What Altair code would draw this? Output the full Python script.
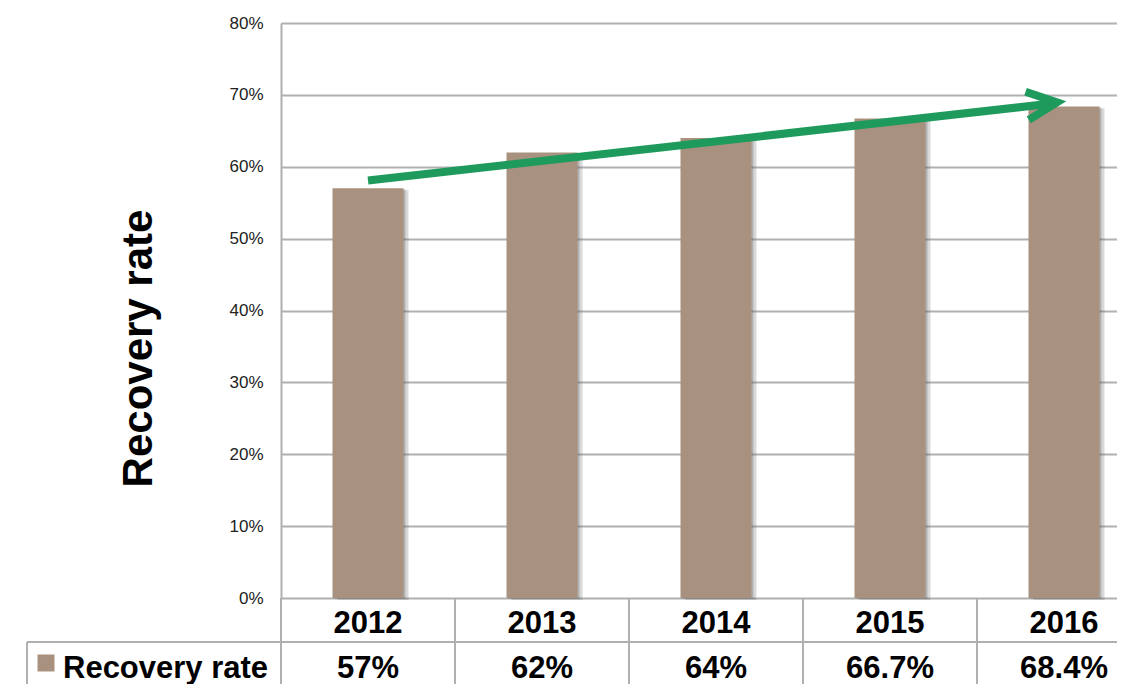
import altair as alt
import pandas as pd

years = ["2012", "2013", "2014", "2015", "2016"]
rates = [0.57, 0.62, 0.64, 0.667, 0.684]
rate_labels = ["57%", "62%", "64%", "66.7%", "68.4%"]
y_ticks = [0, 0.1, 0.2, 0.3, 0.4, 0.5, 0.6, 0.7, 0.8]

arrow_from_year = ["2012"]
arrow_to_year = ["2016"]
arrow_from_val = [0.581]
arrow_to_val = [0.691]

series_name = "Recovery rate"

W = 836
H = 575
GREEN = "#1e9b5c"
BAR = "#a8917f"
LINE = "#b0b0b0"
FONT = "Liberation Sans"

df = pd.DataFrame({"year": years, "rate": rates, "label": rate_labels})
arrow_df = pd.DataFrame({"year": arrow_from_year, "year2": arrow_to_year,
                         "rate": arrow_from_val, "rate2": arrow_to_val})
head_df = pd.DataFrame({"year": arrow_to_year, "rate": arrow_to_val})

xscale = alt.Scale(domain=years, range=[0, 870], paddingInner=0, paddingOuter=0)
X = alt.X("year:N", scale=xscale, axis=None)
yscale = alt.Scale(domain=[0, 0.8])
Y_AXIS = alt.Axis(
    values=y_ticks, format=".0%", grid=True, ticks=False,
    labelPadding=18, labelFontSize=17, labelColor="#222", labelFont=FONT,
    domainColor=LINE, domainWidth=2, gridColor=LINE, gridWidth=2,
    title=series_name, titleFontSize=42, titleFont=FONT, titleFontWeight="bold",
    titleColor="black", titleAngle=270, titleX=-130, titleY=325,
    titleBaseline="alphabetic", titleAlign="center")
Y = alt.Y("rate:Q", scale=yscale, axis=Y_AXIS)

base = alt.Chart(df)

shadow1 = base.mark_bar(size=71, color="#666", opacity=0.25, xOffset=5, yOffset=2).encode(x=X, y=Y)
shadow2 = base.mark_bar(size=71, color="#555", opacity=0.3, xOffset=2, yOffset=1).encode(x=X, y=Y)
bars = base.mark_bar(size=71, color=BAR).encode(x=X, y=Y)

arrow_line = alt.Chart(arrow_df).mark_rule(
    color=GREEN, strokeWidth=8, strokeCap="butt", x2Offset=-10, y2Offset=2).encode(
    x=X, x2="year2:N", y=Y, y2="rate2:Q")
arrow_head = alt.Chart(head_df).mark_point(
    shape="M -1 -0.47 L 0 0 L -1 0.47", size=3600, filled=False, strokeWidth=8,
    color=GREEN, opacity=1, angle=353.4, strokeJoin="miter", strokeCap="butt",
    xOffset=-7, yOffset=1).encode(x=X, y=Y)

year_text = base.mark_text(font=FONT, fontWeight="bold", fontSize=31, baseline="alphabetic",
                           align="center", color="black").encode(
    x=X, y=alt.value(H + 35), text="year:N")
value_text = base.mark_text(font=FONT, fontWeight="bold", fontSize=31, baseline="alphabetic",
                            align="center", color="black").encode(
    x=X, y=alt.value(H + 80), text="label:N")

vlines = base.mark_rule(color=LINE, strokeWidth=2).encode(
    x=alt.X("year:N", scale=xscale, axis=None, bandPosition=0),
    y=alt.value(H), y2=alt.value(H + 100))

hline = alt.Chart(pd.DataFrame({"k": [0]})).mark_rule(color=LINE, strokeWidth=2).encode(
    x=alt.value(-254), x2=alt.value(880), y=alt.value(H + 44))
vleft = alt.Chart(pd.DataFrame({"k": [0]})).mark_rule(color=LINE, strokeWidth=2).encode(
    x=alt.value(-254), y=alt.value(H + 44), y2=alt.value(H + 100))

row_label = alt.Chart(pd.DataFrame({"t": [series_name]})).mark_text(
    font=FONT, fontWeight="bold", fontSize=31, baseline="alphabetic", align="left",
    color="black").encode(x=alt.value(-218), y=alt.value(H + 80), text="t:N")
swatch = alt.Chart(pd.DataFrame({"k": [0]})).mark_square(
    size=289, color=BAR, opacity=1).encode(x=alt.value(-235), y=alt.value(H + 65))

chart = alt.layer(
    shadow1, shadow2, bars, vlines, hline, vleft, arrow_line, arrow_head,
    year_text, value_text, row_label, swatch
).properties(
    width=W, height=H,
    padding={"left": 273, "top": 15, "right": 0, "bottom": 86},
    autosize=alt.AutoSizeParams(type="none"),
).configure_view(stroke=None)

chart.save("out.html", embed_options={"renderer": "svg", "actions": False})
